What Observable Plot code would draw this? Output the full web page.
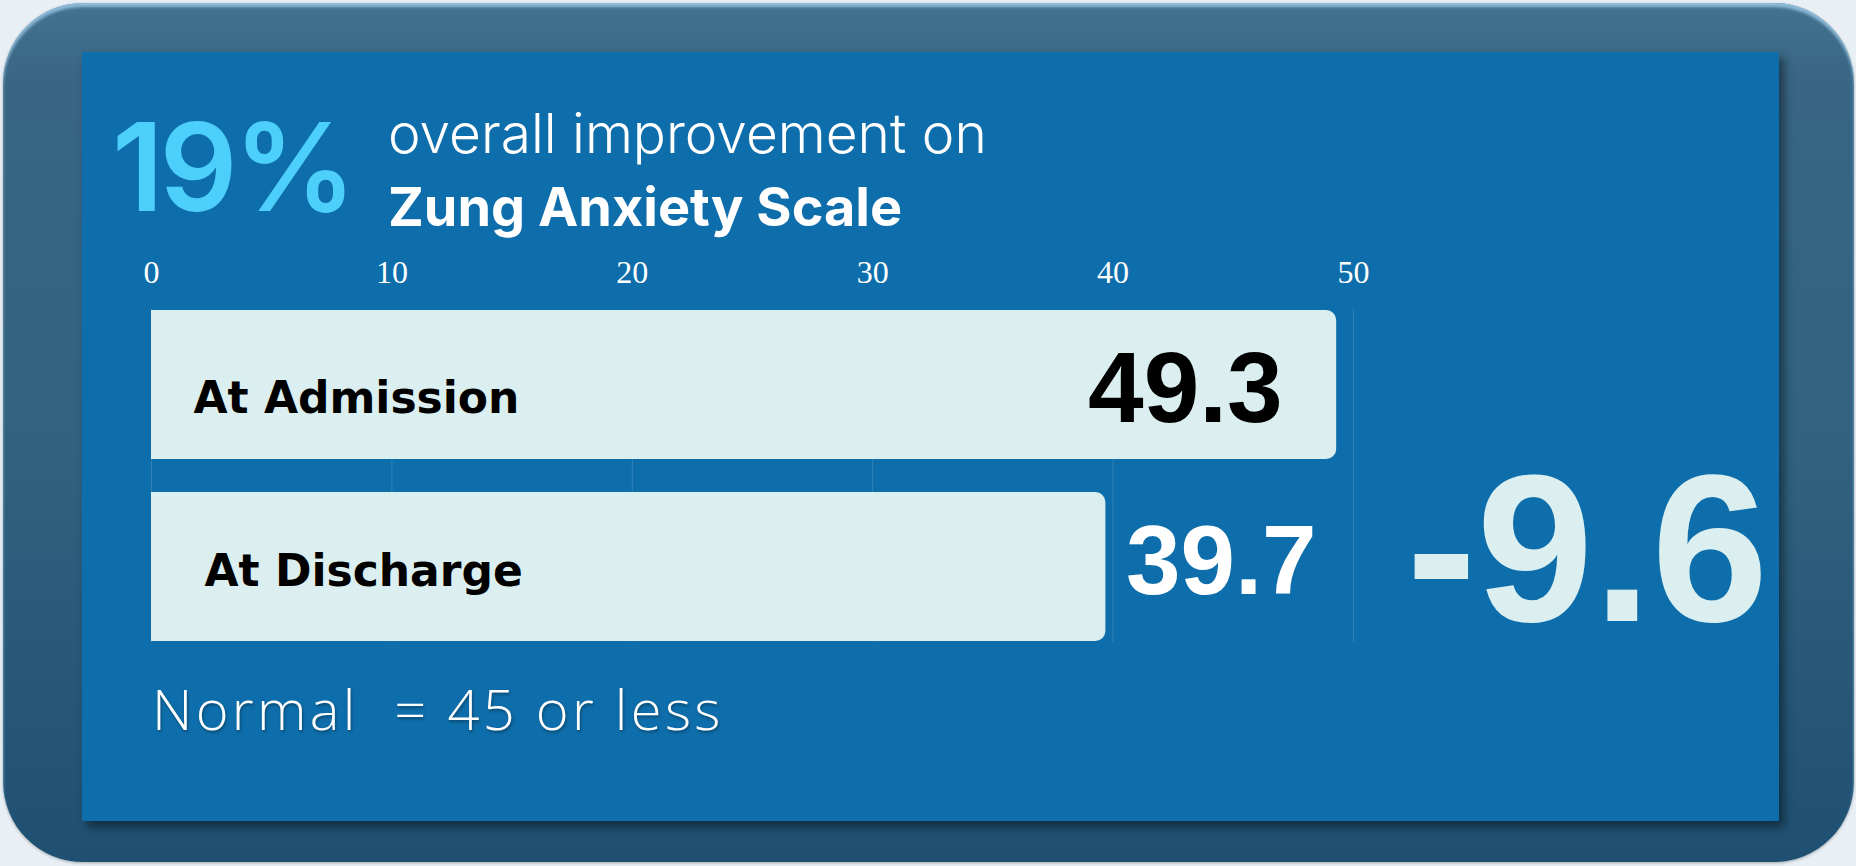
<!DOCTYPE html>
<html><head><meta charset="utf-8">
<script src="https://cdn.jsdelivr.net/npm/d3@7"></script>
<script src="https://cdn.jsdelivr.net/npm/@observablehq/plot@0.6"></script>
<style>
html,body{margin:0;padding:0;width:1856px;height:866px;overflow:hidden;background:#e8f0f6;}
.frame{position:absolute;left:3px;top:3px;width:1851px;height:859px;border-radius:80px;
  background:linear-gradient(180deg,#43728f 0%,#386684 9%,#31627f 50%,#1f5072 100%);
  box-shadow: inset 0 4px 3px rgba(160,205,235,.8), 0 1px 3px rgba(0,0,0,.3);}
.panel{position:absolute;left:82px;top:52px;width:1697px;height:769px;background:#0e6eab;
  box-shadow:5px 6px 9px rgba(0,0,0,.45);}
.t{position:absolute;white-space:pre;line-height:1;margin:0;}
#pct{left:30px;top:54px;font-family:Inter,sans-serif;font-weight:600;font-size:122px;color:#4dcffb;letter-spacing:-4px;}
#l1{left:306px;top:54px;font-family:Inter,sans-serif;font-weight:300;font-size:55px;color:#fff;}
#l2{left:306px;top:128px;font-family:Inter,sans-serif;font-weight:700;font-size:54px;color:#fff;}
#cap{left:70px;top:628px;font-family:"Open Sans",sans-serif;font-weight:300;font-size:56px;color:#fff;letter-spacing:3.3px;text-shadow:1px 2px 3px rgba(0,0,0,.35);}
#chart{position:absolute;left:0;top:188px;}
</style></head>
<body>
<div class="frame"></div>
<div class="panel">
  <div class="t" id="pct"></div>
  <div class="t" id="l1"></div>
  <div class="t" id="l2"></div>
  <div id="chart"></div>
  <div class="t" id="cap"></div>
</div>
<script>
// ---- data ----
const categories = ["At Admission", "At Discharge"];
const scores = [49.3, 39.7];
const tickValues = [0, 10, 20, 30, 40, 50];
const headline = "19%";
const subtitleLine1 = "overall improvement on";
const subtitleLine2 = "Zung Anxiety Scale";
const caption = "Normal  = 45 or less";

document.getElementById("pct").textContent = headline;
document.getElementById("l1").textContent = subtitleLine1;
document.getElementById("l2").textContent = subtitleLine2;
document.getElementById("cap").textContent = caption;

const rows = categories.map((c, i) => ({category: c, score: scores[i]}));
const change = [{category: categories[1], score: 50, label: (scores[1] - scores[0]).toFixed(1)}];
const barFill = "#dbeff0";
const numFont = "'Liberation Sans', Arial, sans-serif";
const labFont = "'DejaVu Sans', sans-serif";

const chart = Plot.plot({
  width: 1697, height: 410,
  marginLeft: 69, marginRight: 426, marginTop: 69, marginBottom: 8,
  style: {background: "transparent", overflow: "visible", color: "#ffffff"},
  x: {domain: [0, 50]},
  y: {domain: categories, paddingInner: 0.18, paddingOuter: 0, axis: null},
  marks: [
    Plot.ruleX(tickValues, {stroke: "#ffffff", strokeOpacity: 0.14}),
    Plot.axisX({anchor: "top", ticks: tickValues, tickSize: 0, tickPadding: 27, label: null,
      fontSize: 32, fontFamily: "'Liberation Serif', 'DejaVu Serif', serif", fill: "#ffffff"}),
    Plot.barX(rows, {x1: 0, x2: "score", y: "category", fill: barFill, rx: 10}),
    Plot.barX(rows, {x1: 0, x2: d => d.score / 2, y: "category", fill: barFill}),
    Plot.text(rows.slice(0, 1), {x: 0, y: "category", text: "category", textAnchor: "start", dx: 42, dy: 14,
      fill: "#000", fontSize: 44, fontWeight: "bold", fontFamily: labFont}),
    Plot.text(rows.slice(1, 2), {x: 0, y: "category", text: "category", textAnchor: "start", dx: 53, dy: 5,
      fill: "#000", fontSize: 44, fontWeight: "bold", fontFamily: labFont}),
    Plot.text(rows.slice(0, 1), {x: "score", y: "category", text: d => d.score.toFixed(1), textAnchor: "end",
      dx: -54, dy: 5, fill: "#000", fontSize: 100, fontWeight: "bold", fontFamily: numFont}),
    Plot.text(rows.slice(1, 2), {x: "score", y: "category", text: d => d.score.toFixed(1), textAnchor: "start",
      dx: 20, dy: -4, fill: "#fff", fontSize: 98, fontWeight: "bold", fontFamily: numFont}),
    Plot.text(change, {x: "score", y: "category", text: "label", textAnchor: "start",
      dx: 53, dy: -13, fill: barFill, fontSize: 210, fontWeight: "bold", fontFamily: numFont})
  ]
});
document.getElementById("chart").appendChild(chart);
</script>
</body></html>
